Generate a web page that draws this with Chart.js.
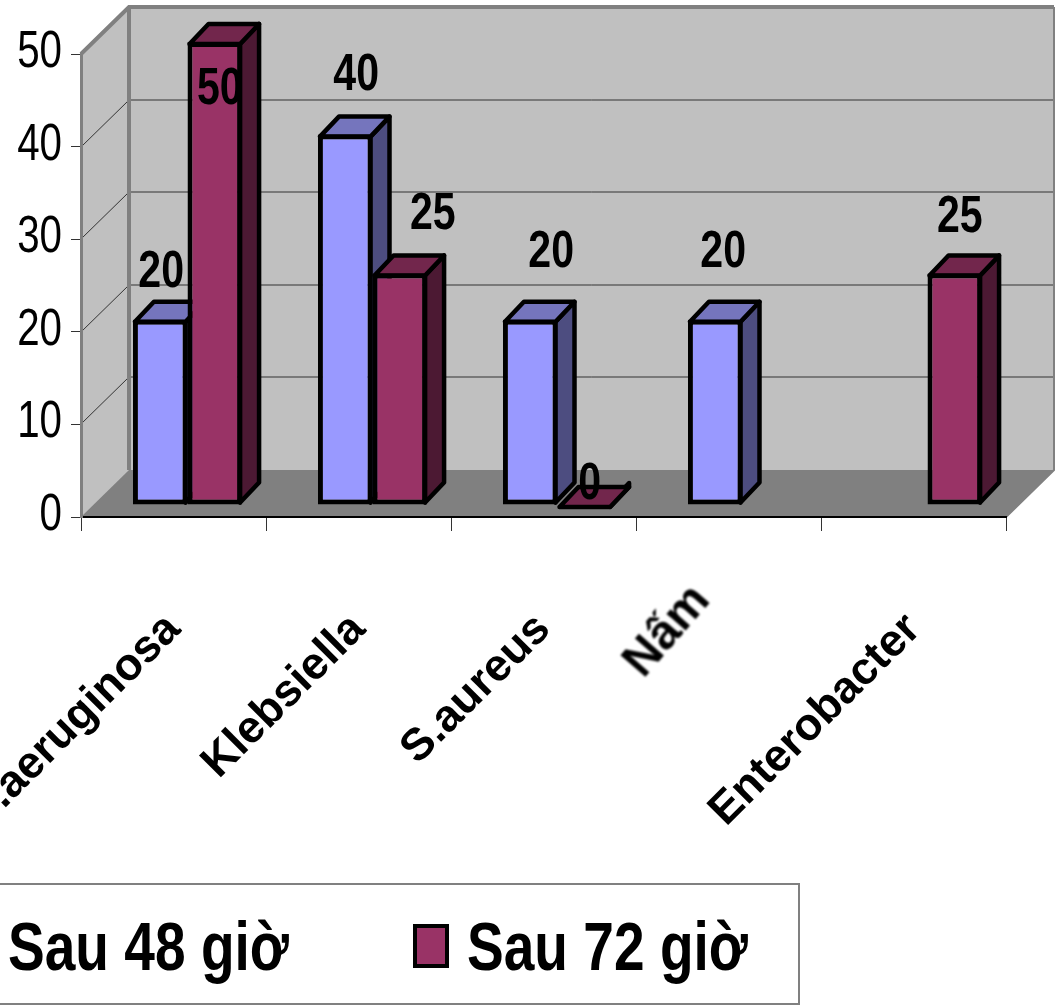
<!DOCTYPE html>
<html lang="vi">

<head>
    <meta charset="UTF-8">
    <title>Sau 48 giờ / Sau 72 giờ</title>
    <style>
        html, body { margin: 0; padding: 0; background: #fff; overflow: hidden; width: 1058px; height: 1006px; }
        #wrap { position: relative; width: 1058px; height: 1006px; overflow: hidden; }
        /* canvas starts left of the window so the long first label runs off the edge */
        #chart { position: absolute; left: -80px; top: 0; }
        #legend {
            position: absolute; left: -70px; top: 883px; width: 866px; height: 118px;
            border: 2px solid #808080; background: #fff;
            font: bold 68px "Liberation Sans", sans-serif; color: #000;
        }
        #legend .item {
            position: absolute; top: 0; line-height: 122px; white-space: nowrap;
            transform: scaleX(0.81); transform-origin: left center;
        }
        #legend .swatch { position: absolute; top: 39px; width: 28px; height: 36px; border: 4px solid #000; }
    </style>
    <script src="https://cdn.jsdelivr.net/npm/chart.js"></script>
</head>

<body>
    <div id="wrap">
        <canvas id="chart" width="1138" height="1006"></canvas>
        <div id="legend"></div>
    </div>
    <script>
        const categories = ['P.aeruginosa', 'Klebsiella', 'S.aureus', 'Nấm', 'Enterobacter'];
        const sau48 = [20, 40, 20, 20, null];
        const sau72 = [50, 25, 0, null, 25];
        const seriesNames = ['Sau 48 giờ', 'Sau 72 giờ'];
        const yTicks = [0, 10, 20, 30, 40, 50];

        // front, top and side colours of each series
        const faces = [
            { front: '#9999ff', top: '#7575bd', side: '#4d4d80' },
            { front: '#993366', top: '#72264c', side: '#4c1933' }
        ];

        // hand placed value labels, relative to bar centre and bar top
        const labelNudges = [
            [[1, -47], [11, -59], [21, -67], [8, -67], null],
            [[5, 48], [33, -59], [5, -20], null, [5, -56]]
        ];

        const wallShift = { x: 48, y: -47 };   // back wall against the front plane
        const barShift = { x: 14, y: -12 };    // bars stand inside the box
        const barDepth = { x: 19, y: -20 };
        const sans = '"Liberation Sans", sans-serif';
        const condense = 0.79;                 // all numbers are set condensed

        function poly(ctx, pts) {
            ctx.beginPath();
            pts.forEach((p, i) => i ? ctx.lineTo(p[0], p[1]) : ctx.moveTo(p[0], p[1]));
            ctx.closePath();
        }

        function condensedText(ctx, text, x, y) {
            ctx.save();
            ctx.translate(x, y);
            ctx.scale(condense, 1);
            ctx.fillText(text, 0, 0);
            ctx.restore();
        }

        // walls and floor of the box
        const boxPlugin = {
            id: 'box',
            beforeDraw(chart) {
                const { ctx, chartArea: a, scales: { y } } = chart;
                const sx = wallShift.x, sy = wallShift.y;
                ctx.save();
                ctx.fillStyle = '#c0c0c0';
                poly(ctx, [[a.left, a.top], [a.left + sx, a.top + sy], [a.right + sx, a.top + sy],
                    [a.right + sx, a.bottom + sy], [a.left, a.bottom]]);
                ctx.fill();
                ctx.fillStyle = '#808080';
                poly(ctx, [[a.left, a.bottom], [a.left + sx, a.bottom + sy], [a.right + sx, a.bottom + sy], [a.right, a.bottom]]);
                ctx.fill();

                ctx.strokeStyle = '#333';
                ctx.lineWidth = 1;
                yTicks.slice(1, -1).forEach(v => {
                    const py = Math.round(y.getPixelForValue(v));
                    ctx.beginPath();
                    ctx.moveTo(a.left, py);
                    ctx.lineTo(a.left + sx, py + sy);
                    ctx.lineTo(a.right + sx, py + sy);
                    ctx.stroke();
                });

                ctx.strokeStyle = '#808080';
                ctx.lineWidth = 4;
                ctx.beginPath();
                ctx.moveTo(a.left + sx, a.bottom + sy);
                ctx.lineTo(a.left + sx, a.top + sy);
                ctx.moveTo(a.left, a.top);
                ctx.lineTo(a.left + sx, a.top + sy);
                ctx.lineTo(a.right + sx, a.top + sy);
                ctx.stroke();
                ctx.lineWidth = 2;
                ctx.beginPath();
                ctx.moveTo(a.right, a.bottom);
                ctx.lineTo(a.right + sx, a.bottom + sy);
                ctx.lineTo(a.right + sx, a.top + sy);
                ctx.stroke();
                ctx.restore();
            },
            // bars are drawn here, left to right, each with its top and side
            beforeDatasetsDraw(chart) {
                const ctx = chart.ctx;
                ctx.save();
                ctx.translate(barShift.x, barShift.y);
                ctx.lineWidth = 4.5;
                ctx.lineJoin = 'round';
                ctx.strokeStyle = '#000';
                [0, 1].forEach(d => {
                    chart.getDatasetMeta(d).data.forEach((bar, i) => {
                        if (chart.data.datasets[d].data[i] === null) return;
                        const { x, y, base, width } = bar.getProps(['x', 'y', 'base', 'width']);
                        const l = x - width / 2 + 2, r = x + width / 2 - 2, t = y + 2, b = base - 2;
                        const dx = barDepth.x, dy = barDepth.y;
                        ctx.fillStyle = faces[d].side;
                        poly(ctx, [[r, t], [r + dx, t + dy], [r + dx, b + dy], [r, b]]);
                        ctx.fill();
                        ctx.stroke();
                        ctx.fillStyle = faces[d].top;
                        poly(ctx, [[l, t], [l + dx, t + dy], [r + dx, t + dy], [r, t]]);
                        ctx.fill();
                        ctx.stroke();
                        bar.draw(ctx);
                    });
                });
                ctx.restore();
                return false;
            },
            afterDraw(chart) {
                const { ctx, scales: { x: xs, y: ys } } = chart;
                ctx.save();
                ctx.fillStyle = '#000';
                ctx.textBaseline = 'middle';

                // value axis numbers
                ctx.textAlign = 'right';
                ctx.font = '51px ' + sans;
                yTicks.forEach(v => condensedText(ctx, String(v), ys.left + ys.width - 19, ys.getPixelForValue(v) - 1));

                // value labels
                ctx.textAlign = 'center';
                ctx.font = 'bold 52px ' + sans;
                [sau48, sau72].forEach((vals, d) => {
                    chart.getDatasetMeta(d).data.forEach((bar, i) => {
                        if (vals[i] === null) return;
                        const n = labelNudges[d][i];
                        condensedText(ctx, String(vals[i]), bar.x + barShift.x + n[0], bar.y + barShift.y + n[1]);
                    });
                });

                // fourth category label comes out smeared and sits apart from the others
                ctx.translate(xs.getPixelForTick(3) - 27, 592);
                ctx.rotate(-49 * Math.PI / 180);
                ctx.filter = 'blur(1.2px)';
                ctx.textAlign = 'right';
                ctx.font = 'bold 48px ' + sans;
                ctx.fillText(categories[3], 0, 0);
                ctx.restore();
            }
        };

        const chart = new Chart(document.getElementById('chart'), {
            type: 'bar',
            plugins: [boxPlugin],
            data: {
                labels: categories,
                datasets: [sau48, sau72].map((vals, d) => ({
                    label: seriesNames[d],
                    data: vals,
                    backgroundColor: faces[d].front,
                    borderColor: '#000',
                    borderWidth: 5,
                    borderSkipped: false
                }))
            },
            options: {
                responsive: false,
                animation: false,
                categoryPercentage: 0.59,
                barPercentage: 1,
                layout: { padding: { top: 54, right: 52, bottom: 0, left: 0 } },
                plugins: { legend: { display: false }, tooltip: { enabled: false } },
                scales: {
                    x: {
                        offset: true,
                        afterFit(s) { s.height = 489; s.paddingLeft = 0; s.paddingRight = 0; },
                        border: { color: '#000', width: 2 },
                        grid: { offset: true, drawOnChartArea: false, tickLength: 14, color: '#333' },
                        ticks: {
                            autoSkip: false, minRotation: 45, maxRotation: 45, padding: 72, color: '#000',
                            font: { family: sans, weight: 'bold', size: 45 },
                            callback(v, i) { return i === 3 ? '' : categories[i]; }
                        }
                    },
                    y: {
                        min: 0,
                        max: 50,
                        afterFit(s) { s.width = 161; s.paddingTop = 0; s.paddingBottom = 0; },
                        afterBuildTicks(s) { s.ticks = yTicks.map(v => ({ value: v })); },
                        border: { color: '#808080', width: 3 },
                        grid: { drawOnChartArea: false, tickLength: 10, color: '#333' },
                        ticks: { display: false }
                    }
                }
            }
        });

        // legend box along the bottom, built from the chart's own datasets
        const legendSlots = [{ swatch: 22, text: 76 }, { swatch: 481, text: 535 }];
        document.getElementById('legend').innerHTML = chart.data.datasets.map((ds, i) =>
            `<div class="swatch" style="left:${legendSlots[i].swatch}px;background:${ds.backgroundColor}"></div>` +
            `<div class="item" style="left:${legendSlots[i].text}px">${ds.label}</div>`).join('');
    </script>
</body>

</html>
